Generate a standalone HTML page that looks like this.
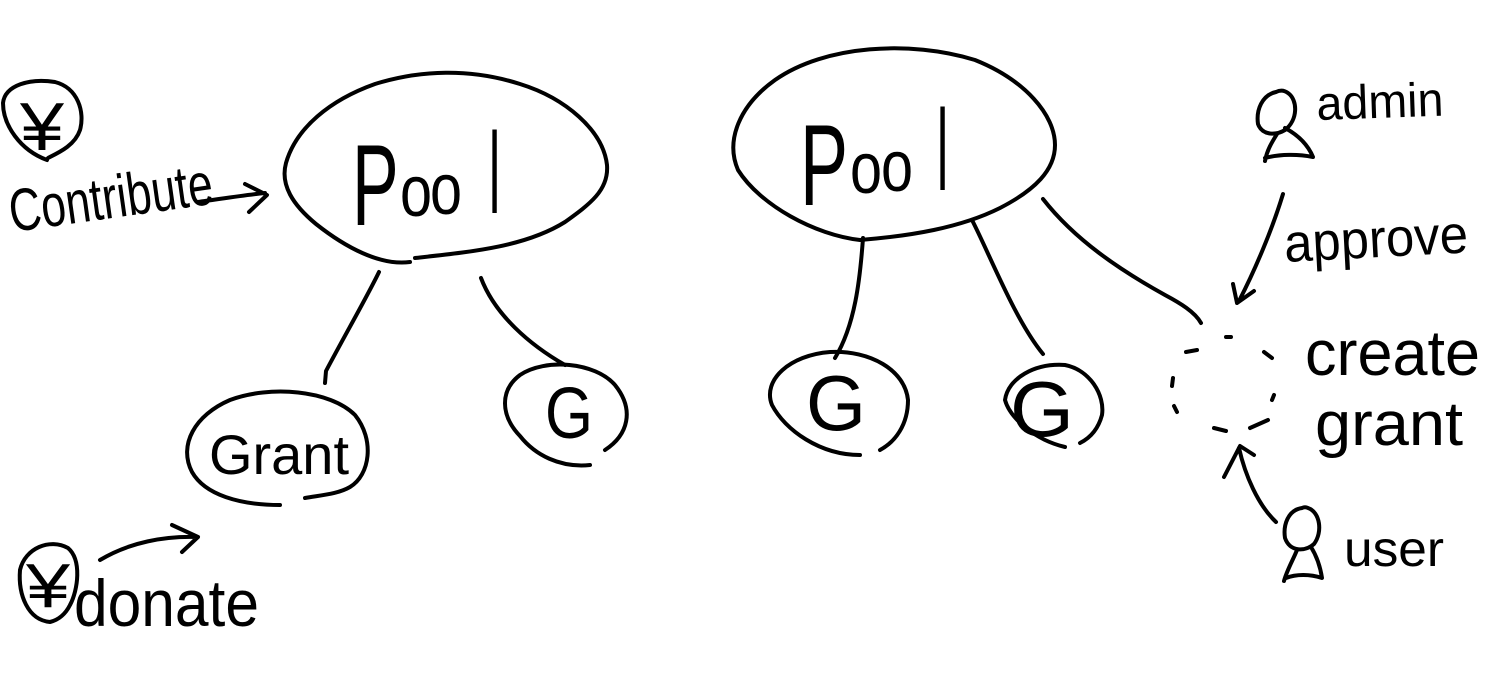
<!DOCTYPE html>
<html>
<head>
<meta charset="utf-8">
<style>
html,body{margin:0;padding:0;background:#fff;width:1504px;height:695px;overflow:hidden}
svg{display:block}
path{fill:none;stroke:#000;stroke-width:4;stroke-linecap:round;stroke-linejoin:round}
text{font-family:"Liberation Sans",sans-serif;fill:#000}
</style>
</head>
<body>
<svg width="1504" height="695" viewBox="0 0 1504 695" xmlns="http://www.w3.org/2000/svg">
<!-- Left pool -->
<path d="M410 262C380 266 345 247 316 224C293 205 280 185 286 163C296 128 330 100 375 84C420 70 470 68 520 84C565 98 603 130 607 165C609 190 590 204 565 222C525 247 470 252 415 258"/>
<text transform="translate(352 225) scale(.7 1.15)" font-size="100">P</text>
<text transform="translate(400 216) scale(.8 1)" font-size="72">o</text>
<text transform="translate(430 214) scale(.8 1)" font-size="72">o</text>
<text transform="translate(489 213) scale(.5 1.15)" font-size="100">l</text>
<!-- Left pool connectors -->
<path d="M379 272C368 295 345 335 326 371L325 383"/>
<path d="M481 278C495 315 530 345 565 365"/>
<!-- Grant -->
<path d="M280 505C240 505 205 495 192 472C178 445 195 415 230 400C270 385 330 390 355 415C375 440 370 475 350 487C338 494 322 495 305 498"/>
<text x="209" y="474" font-size="56" textLength="140" lengthAdjust="spacingAndGlyphs">Grant</text>
<!-- Left G -->
<path d="M590 465C560 468 535 455 520 436C500 415 500 390 520 375C545 358 595 362 615 385C635 410 628 435 605 450"/>
<text x="545" y="438" font-size="72" textLength="48" lengthAdjust="spacingAndGlyphs">G</text>
<!-- Contribute -->
<text transform="translate(12 232) rotate(-8)" font-size="60" textLength="205" lengthAdjust="spacingAndGlyphs">Contribute</text>
<path d="M198 202C220 199 245 195 265 193M245 184L267 195L249 212"/>
<!-- Top-left yen -->
<path d="M47 160C20 150 3 125 3 103C5 85 30 78 55 82C78 88 85 112 80 130C75 145 60 152 48 158"/>
<text x="20" y="150" font-size="68" textLength="44" lengthAdjust="spacingAndGlyphs">¥</text>
<!-- Bottom-left yen -->
<path d="M50 622C28 620 18 595 20 570C25 548 50 538 68 548C82 560 78 590 70 605C65 615 58 620 50 622"/>
<text x="26" y="607" font-size="62" textLength="44" lengthAdjust="spacingAndGlyphs">¥</text>
<path d="M100 560C130 542 165 536 197 537M172 525L198 537L182 552"/>
<text x="74" y="626" font-size="66" textLength="185" lengthAdjust="spacingAndGlyphs">donate</text>
<!-- Right pool -->
<path d="M860 240C815 235 760 205 738 170C725 140 740 105 775 80C825 45 910 40 975 60C1025 80 1055 115 1055 145C1055 170 1035 190 1000 208C960 228 910 236 860 240"/>
<text transform="translate(800 205) scale(.72 1.15)" font-size="100">P</text>
<text transform="translate(850 193) scale(.8 1)" font-size="72">o</text>
<text transform="translate(881 191) scale(.8 1)" font-size="72">o</text>
<text transform="translate(937 190) scale(.5 1.15)" font-size="100">l</text>
<!-- Right pool connectors -->
<path d="M863 238C860 280 855 325 835 358"/>
<path d="M972 220C990 255 1015 320 1043 354"/>
<path d="M1043 199C1075 240 1120 270 1165 295C1180 303 1195 312 1201 323"/>
<!-- Right G 1 -->
<path d="M860 455C820 455 785 430 772 405C762 380 790 355 830 352C870 350 905 370 908 400C908 425 895 442 880 450"/>
<text x="806" y="430" font-size="78" textLength="60" lengthAdjust="spacingAndGlyphs">G</text>
<!-- Right G 2 -->
<path d="M1065 447C1035 440 1010 418 1005 400C1008 378 1035 363 1065 365C1090 370 1105 395 1102 415C1098 430 1090 438 1080 443"/>
<text x="1010" y="436" font-size="78" textLength="64" lengthAdjust="spacingAndGlyphs">G</text>
<!-- Admin -->
<path d="M1276 92C1262 95 1256 110 1258 124C1262 135 1275 136 1285 130C1298 120 1298 100 1288 93C1284 90 1280 90 1276 92"/>
<path d="M1277 134C1272 142 1267 150 1265 161M1265 158C1280 154 1298 154 1313 157C1308 145 1298 135 1285 128"/>
<text x="1317" y="120" font-size="48" textLength="127" lengthAdjust="spacingAndGlyphs" transform="rotate(-2 1317 120)">admin</text>
<!-- Approve -->
<path d="M1283 194C1272 230 1255 270 1239 301M1233 284L1237 303L1254 291"/>
<text x="1285" y="262" font-size="54" textLength="184" lengthAdjust="spacingAndGlyphs" transform="rotate(-3 1285 262)">approve</text>
<!-- Dashed grant -->
<path d="M1186 352L1197 350M1226 337L1231 337M1264 352L1272 358M1173 378L1172 386M1174 406L1177 412M1214 428L1226 431M1250 428L1268 420M1272 400L1274 395"/>
<text x="1305" y="375" font-size="64" textLength="175" lengthAdjust="spacingAndGlyphs">create</text>
<text x="1315" y="445" font-size="62" textLength="148" lengthAdjust="spacingAndGlyphs">grant</text>
<!-- User -->
<path d="M1302 508C1288 510 1283 525 1285 538C1290 552 1305 552 1314 544C1323 532 1320 512 1308 508C1306 507 1304 507 1302 508"/>
<path d="M1297 550C1293 560 1287 570 1284 581M1286 578C1296 574 1310 574 1322 578C1320 565 1316 555 1311 547"/>
<path d="M1276 522C1258 505 1245 475 1239 448M1224 477L1240 446L1254 455"/>
<text x="1344" y="566" font-size="50" textLength="100" lengthAdjust="spacingAndGlyphs">user</text>
</svg>
</body>
</html>
